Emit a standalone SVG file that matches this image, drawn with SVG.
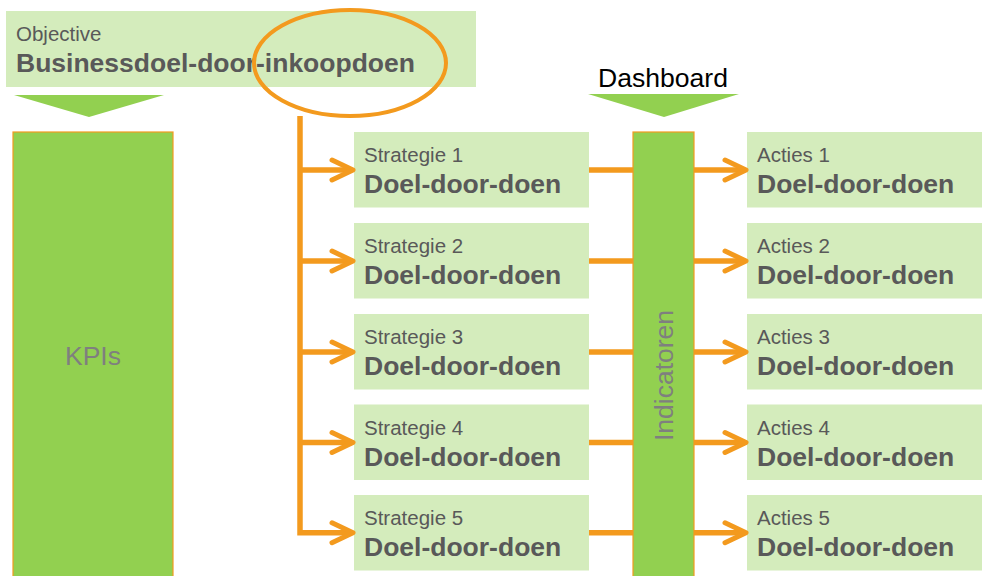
<svg xmlns="http://www.w3.org/2000/svg" width="982" height="576" viewBox="0 0 982 576">
  <defs>
    <style>
      .box { fill: #D4ECBC; }
      .bar { fill: #92D050; stroke: #F39A1E; stroke-width: 1.2; }
      .tri { fill: #92D050; }
      .lbl { font-family: "Liberation Sans", Arial, sans-serif; font-size: 20.5px; fill: #595959; }
      .ttl { font-family: "Liberation Sans", Arial, sans-serif; font-size: 26.5px; font-weight: bold; fill: #595959; }
      .bartxt { font-family: "Liberation Sans", Arial, sans-serif; font-size: 26.5px; fill: #7F7F7F; }
      .dash { font-family: "Liberation Sans", Arial, sans-serif; font-size: 25px; fill: #000000; }
      .wire { fill: none; stroke: #F39A1E; stroke-width: 5.5; }
      .head { fill: none; stroke: #F39A1E; stroke-width: 5; stroke-linecap: round; stroke-linejoin: round; }
    </style>
  </defs>

  <!-- Objective -->
  <g id="objective">
    <rect class="box" x="6" y="11" width="470" height="76"/>
    <text class="lbl" x="16" y="41">Objective</text>
    <text class="ttl" x="16" y="72">Businessdoel-door-inkoopdoen</text>
  </g>

  <!-- KPIs column -->
  <g id="kpis">
    <polygon class="tri" points="14,95 164,95 89,117"/>
    <rect class="bar" x="13" y="132" width="160" height="460"/>
    <text class="bartxt" x="93" y="365" text-anchor="middle">KPIs</text>
  </g>

  <!-- Dashboard / Indicatoren column -->
  <g id="dashboard">
    <text class="dash" x="598" y="87" textLength="130" lengthAdjust="spacingAndGlyphs">Dashboard</text>
    <polygon class="tri" points="588,94 739,94 664,117"/>
  </g>
  <g id="indicatoren">
    <rect class="bar" x="633" y="132" width="61" height="460"/>
    <text class="bartxt" transform="translate(673,375.5) rotate(-90)" text-anchor="middle">Indicatoren</text>
  </g>

  <!-- Strategies -->
  <g id="strategie-1">
    <rect class="box" x="354" y="132" width="235" height="75.5"/>
    <text class="lbl" x="364" y="162">Strategie 1</text>
    <text class="ttl" x="364" y="193">Doel-door-doen</text>
  </g>
  <g id="strategie-2">
    <rect class="box" x="354" y="223" width="235" height="75.5"/>
    <text class="lbl" x="364" y="253">Strategie 2</text>
    <text class="ttl" x="364" y="284">Doel-door-doen</text>
  </g>
  <g id="strategie-3">
    <rect class="box" x="354" y="314" width="235" height="75.5"/>
    <text class="lbl" x="364" y="344">Strategie 3</text>
    <text class="ttl" x="364" y="375">Doel-door-doen</text>
  </g>
  <g id="strategie-4">
    <rect class="box" x="354" y="404.5" width="235" height="75.5"/>
    <text class="lbl" x="364" y="434.5">Strategie 4</text>
    <text class="ttl" x="364" y="465.5">Doel-door-doen</text>
  </g>
  <g id="strategie-5">
    <rect class="box" x="354" y="495" width="235" height="75.5"/>
    <text class="lbl" x="364" y="525">Strategie 5</text>
    <text class="ttl" x="364" y="556">Doel-door-doen</text>
  </g>

  <!-- Actions -->
  <g id="acties-1">
    <rect class="box" x="747" y="132" width="235" height="75.5"/>
    <text class="lbl" x="757" y="162">Acties 1</text>
    <text class="ttl" x="757" y="193">Doel-door-doen</text>
  </g>
  <g id="acties-2">
    <rect class="box" x="747" y="223" width="235" height="75.5"/>
    <text class="lbl" x="757" y="253">Acties 2</text>
    <text class="ttl" x="757" y="284">Doel-door-doen</text>
  </g>
  <g id="acties-3">
    <rect class="box" x="747" y="314" width="235" height="75.5"/>
    <text class="lbl" x="757" y="344">Acties 3</text>
    <text class="ttl" x="757" y="375">Doel-door-doen</text>
  </g>
  <g id="acties-4">
    <rect class="box" x="747" y="404.5" width="235" height="75.5"/>
    <text class="lbl" x="757" y="434.5">Acties 4</text>
    <text class="ttl" x="757" y="465.5">Doel-door-doen</text>
  </g>
  <g id="acties-5">
    <rect class="box" x="747" y="495" width="235" height="75.5"/>
    <text class="lbl" x="757" y="525">Acties 5</text>
    <text class="ttl" x="757" y="556">Doel-door-doen</text>
  </g>

  <!-- Connectors -->
  <g id="connectors">
    <ellipse cx="350" cy="63" rx="96" ry="53" fill="none" stroke="#F39A1E" stroke-width="4"/>
    <!-- trunk from the highlighted goal down to the strategies -->
    <path class="wire" d="M300,116 V532.75 H352"/>
    <path class="wire" d="M300,170 H352 M300,261 H352 M300,352 H352 M300,442.5 H352"/>
    <!-- strategies through indicators to actions -->
    <path class="wire" d="M589,170 H633 M589,261 H633 M589,352 H633 M589,442.5 H633 M589,532.75 H633"/>
    <path class="wire" d="M694,170 H745 M694,261 H745 M694,352 H745 M694,442.5 H745 M694,532.75 H745"/>
    <!-- arrowheads -->
    <path class="head" d="M332,160 L353,170 L332,180 M332,251 L353,261 L332,271 M332,342 L353,352 L332,362 M332,432.5 L353,442.5 L332,452.5 M332,522.75 L353,532.75 L332,542.75"/>
    <path class="head" d="M725,160 L746,170 L725,180 M725,251 L746,261 L725,271 M725,342 L746,352 L725,362 M725,432.5 L746,442.5 L725,452.5 M725,522.75 L746,532.75 L725,542.75"/>
  </g>
</svg>
